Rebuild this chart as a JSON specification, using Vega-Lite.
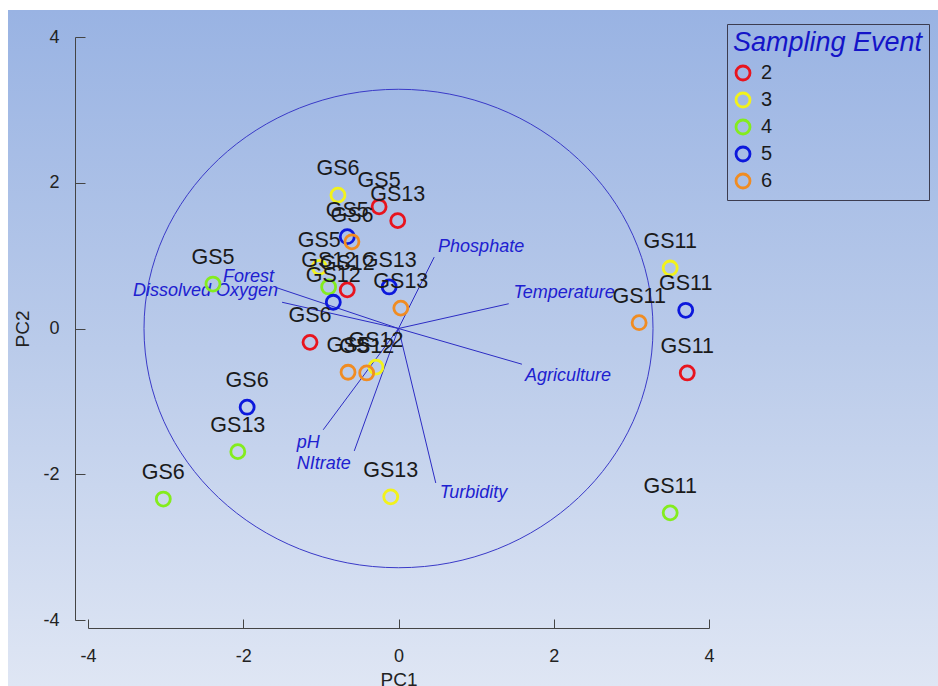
{
  "$schema": "https://vega.github.io/schema/vega-lite/v6.json",
  "width": 930,
  "height": 676,
  "autosize": "none",
  "padding": {"left": 8, "top": 10, "right": 0, "bottom": 0},
  "background": "#ffffff",
  "config": {"font": "Liberation Sans"},
  "view": {"stroke": null, "fill": {"gradient": "linear", "x1": 0, "y1": 0, "x2": 0, "y2": 1,
          "stops": [{"offset": 0, "color": "#99b3e3"}, {"offset": 0.5, "color": "#bacbea"}, {"offset": 1, "color": "#dfe6f4"}]}},
  "datasets": {
    "samples": [
      {"site": "GS5", "event": "2", "x": -0.25, "y": 1.67},
      {"site": "GS13", "event": "2", "x": -0.01, "y": 1.48},
      {"site": "GS12", "event": "2", "x": -0.66, "y": 0.53},
      {"site": "GS6", "event": "2", "x": -1.14, "y": -0.19},
      {"site": "GS11", "event": "2", "x": 3.72, "y": -0.61},
      {"site": "GS6", "event": "3", "x": -0.78, "y": 1.83},
      {"site": "GS5", "event": "3", "x": -1.02, "y": 0.84},
      {"site": "GS11", "event": "3", "x": 3.5, "y": 0.83},
      {"site": "GS12", "event": "3", "x": -0.29, "y": -0.53},
      {"site": "GS13", "event": "3", "x": -0.1, "y": -2.31},
      {"site": "GS5", "event": "4", "x": -2.39, "y": 0.61},
      {"site": "GS12", "event": "4", "x": -0.9, "y": 0.57},
      {"site": "GS13", "event": "4", "x": -2.07, "y": -1.69},
      {"site": "GS6", "event": "4", "x": -3.03, "y": -2.34},
      {"site": "GS11", "event": "4", "x": 3.5, "y": -2.53},
      {"site": "GS5", "event": "5", "x": -0.66, "y": 1.26},
      {"site": "GS12", "event": "5", "x": -0.84, "y": 0.36},
      {"site": "GS13", "event": "5", "x": -0.12, "y": 0.57},
      {"site": "GS6", "event": "5", "x": -1.95, "y": -1.08},
      {"site": "GS11", "event": "5", "x": 3.7, "y": 0.25},
      {"site": "GS6", "event": "6", "x": -0.6, "y": 1.19},
      {"site": "GS13", "event": "6", "x": 0.03, "y": 0.28},
      {"site": "GS5", "event": "6", "x": -0.65, "y": -0.6},
      {"site": "GS12", "event": "6", "x": -0.41, "y": -0.61},
      {"site": "GS11", "event": "6", "x": 3.1, "y": 0.08}
    ],
    "loadings": [
      {"variable": "Phosphate", "x": 0.46, "y": 0.98, "lx": 0.51, "ly": 1.12},
      {"variable": "Temperature", "x": 1.42, "y": 0.34, "lx": 1.48, "ly": 0.49},
      {"variable": "Agriculture", "x": 1.59, "y": -0.49, "lx": 1.63, "ly": -0.65},
      {"variable": "Turbidity", "x": 0.48, "y": -2.12, "lx": 0.53, "ly": -2.26},
      {"variable": "NItrate", "x": -0.57, "y": -1.68, "lx": -1.31, "ly": -1.86},
      {"variable": "pH", "x": -0.97, "y": -1.39, "lx": -1.31, "ly": -1.57},
      {"variable": "Forest", "x": -1.57, "y": 0.56, "lx": -2.26, "ly": 0.71},
      {"variable": "Dissolved Oxygen", "x": -1.5, "y": 0.36, "lx": -3.42, "ly": 0.51}
    ],
    "circle": [{"x": 0, "y": 0}]
  },
  "encoding": {
    "x": {
      "field": "x", "type": "quantitative",
      "scale": {"domain": [-4, 4], "range": [80, 701], "nice": false, "zero": false},
      "axis": {
        "title": "PC1", "values": [-4, -2, 0, 2, 4], "grid": false,
        "labelExpr": "'' + datum.value",
        "offset": -58, "tickSize": -9, "labelPadding": 28, "labelFlush": false,
        "labelFontSize": 18, "titleFontSize": 19, "titleFontWeight": "normal",
        "titlePadding": 5, "domainColor": "#444", "tickColor": "#444",
        "labelColor": "#222", "titleColor": "#222"
      }
    },
    "y": {
      "field": "y", "type": "quantitative",
      "scale": {"domain": [-4, 4], "range": [610, 27], "nice": false, "zero": false},
      "axis": {
        "title": "PC2", "values": [-4, -2, 0, 2, 4], "grid": false,
        "labelExpr": "'' + datum.value",
        "offset": -67, "tickSize": -10, "labelPadding": 26, "labelFlush": false,
        "labelFontSize": 18, "titleFontSize": 19, "titleFontWeight": "normal",
        "titlePadding": 10, "domainColor": "#444", "tickColor": "#444",
        "labelColor": "#222", "titleColor": "#222"
      }
    }
  },
  "layer": [
    {
      "data": {"name": "circle"},
      "mark": {
        "type": "point", "filled": false, "stroke": "#3a3ac8", "strokeWidth": 1, "opacity": 1,
        "shape": "M -1 0 A 1 0.94 0 1 1 1 0 A 1 0.94 0 1 1 -1 0 Z",
        "size": 259081
      }
    },
    {
      "data": {"name": "loadings"},
      "mark": {"type": "rule", "stroke": "#2c2cc4", "strokeWidth": 1},
      "encoding": {
        "x": {"datum": 0, "type": "quantitative"},
        "y": {"datum": 0, "type": "quantitative"},
        "x2": {"field": "x"},
        "y2": {"field": "y"}
      }
    },
    {
      "data": {"name": "loadings"},
      "mark": {"type": "text", "align": "left", "baseline": "middle", "fontSize": 18, "fontStyle": "italic", "color": "#2020d0"},
      "encoding": {
        "x": {"field": "lx", "type": "quantitative"},
        "y": {"field": "ly", "type": "quantitative"},
        "text": {"field": "variable"}
      }
    },
    {
      "data": {"name": "samples"},
      "mark": {"type": "point", "shape": "circle", "filled": false, "size": 196, "strokeWidth": 2.8, "opacity": 1},
      "encoding": {
        "color": {
          "field": "event", "type": "nominal",
          "scale": {"domain": ["2", "3", "4", "5", "6"], "range": ["#e8141e", "#f2f21c", "#84ec1e", "#0c18dc", "#f08c22"]},
          "legend": {
            "title": "Sampling Event", "orient": "none", "legendX": 719, "legendY": 14,
            "titleFontSize": 27, "titleFontStyle": "italic", "titleFontWeight": "normal", "titleColor": "#1414c8",
            "titleLimit": 400,
            "labelFontSize": 20, "labelColor": "#1a1a1a", "symbolSize": 196, "symbolStrokeWidth": 2.8,
            "symbolType": "circle", "symbolFillColor": "transparent",
            "strokeColor": "#3c3c50", "padding": 6, "rowPadding": 1, "titlePadding": 6, "labelOffset": 8
          }
        }
      }
    },
    {
      "data": {"name": "samples"},
      "mark": {"type": "text", "align": "center", "baseline": "middle", "dy": -26, "fontSize": 21.5, "color": "#1a1a1a"},
      "encoding": {
        "text": {"field": "site"}
      }
    }
  ]
}
